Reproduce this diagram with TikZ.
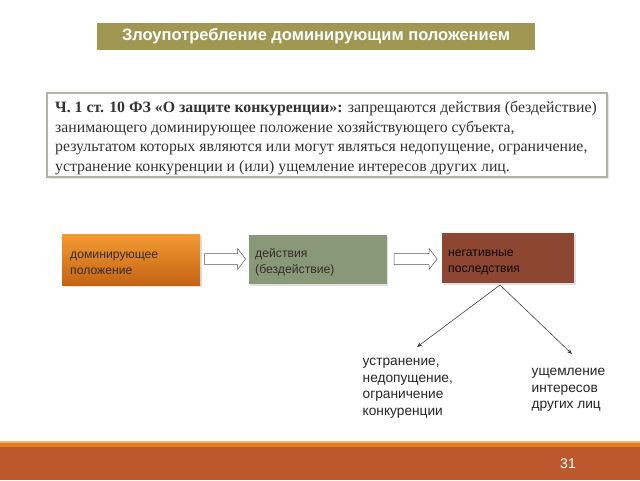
\documentclass[tikz,border=0pt]{standalone}
\usepackage{fontspec}
\setmainfont{Liberation Serif}
\setsansfont{Liberation Sans}
\usetikzlibrary{shapes.arrows,arrows.meta,shadows}
\definecolor{titleol}{RGB}{160,152,82}
\definecolor{boxgray}{RGB}{178,178,165}
\definecolor{orTop}{RGB}{243,155,52}
\definecolor{orBot}{RGB}{196,98,18}
\definecolor{grn}{RGB}{138,152,122}
\definecolor{brn}{RGB}{140,70,50}
\definecolor{rust}{RGB}{189,88,44}
\definecolor{orline}{RGB}{226,128,32}
\definecolor{txtd}{RGB}{55,45,40}
\tikzset{
  flowbox/.style={minimum width=138pt, minimum height=51pt, inner sep=0pt,
    drop shadow={shadow xshift=1.5pt, shadow yshift=-1.5pt, opacity=0.25}},
  boxtxt/.style={font=\sffamily\fontsize{12.2}{15.5}\selectfont, text=txtd, align=left, anchor=west, inner sep=0pt},
  barrow/.style={single arrow, draw=gray!70!black, fill=white, line width=0.5pt,
    minimum height=41pt, minimum width=20pt, inner sep=5.25pt, single arrow head extend=4.75pt,
    single arrow tip angle=105},
  conn/.style={draw=black!75, line width=0.6pt, -{Stealth[length=5pt,width=4pt]}},
  lowtxt/.style={font=\sffamily\fontsize{13.7}{16.7}\selectfont, text=black!85, align=left, anchor=north west, inner sep=0pt}
}
\begin{document}
\begin{tikzpicture}[x=1pt,y=-1pt]
\useasboundingbox (0,0) rectangle (640,480);
\fill[white] (0,0) rectangle (640,480);
% title
\node[fill=titleol, minimum width=438pt, minimum height=27pt, inner sep=0pt,
  text=white, font=\sffamily\bfseries\fontsize{16.5}{18}\selectfont] (title) at (316,36.5) {Злоупотребление доминирующим положением};
% law text box
\node[draw=boxgray, line width=1.2pt, fill=white, minimum width=560pt, minimum height=84pt, inner sep=0pt,
  drop shadow={shadow xshift=1.5pt, shadow yshift=-1.5pt, opacity=0.2}] (law) at (327,135) {};
\node[anchor=north west, inner sep=0pt, align=left, text=black!80, font=\fontsize{15.8}{19.7}\selectfont] (lawtxt) at (55,101)
{\textbf{Ч. 1 ст. 10 ФЗ «О защите конкуренции»:} запрещаются действия (бездействие)\\
занимающего доминирующее положение хозяйствующего субъекта,\\
результатом которых являются или могут являться недопущение, ограничение,\\
устранение конкуренции и (или) ущемление интересов других лиц.};
% flow boxes
\node[flowbox, top color=orTop, bottom color=orBot] (b1) at (131,260) {};
\node[boxtxt] (t1) at (70,263.5) {доминирующее\\положение};
\node[flowbox, minimum width=138pt, minimum height=49pt, fill=grn] (b2) at (317.5,259.5) {};
\node[boxtxt] (t2) at (255,262) {действия\\(бездействие)};
\node[flowbox, minimum width=132pt, minimum height=50pt, fill=brn] (b3) at (508,258) {};
\node[boxtxt, text=black!90!brn] (t3) at (448,262.5) {негативные\\последствия};
% block arrows
\node[barrow] (a1) at (223,259) {};
\node[barrow, minimum height=43pt] (a2) at (413.5,259) {};
% lower texts
\node[lowtxt] (l1) at (362.5,358) {устранение,\\недопущение,\\ограничение\\конкуренции};
\node[lowtxt] (l2) at (531.5,368) {ущемление\\интересов\\других лиц};
\coordinate (src) at (500,285);
\coordinate (e1) at (417,347);
\coordinate (e2) at (572,354);
\draw[conn] (src) -- (e1);
\draw[conn] (src) -- (e2);
% bottom bar
\fill[orline!60] (0,441) rectangle (640,443);
\fill[orline] (0,443) rectangle (640,447);
\fill[rust] (0,447) rectangle (640,480);
\node[text=white, font=\sffamily\fontsize{14}{16}\selectfont] (pg) at (568,464) {31};
\end{tikzpicture}
\end{document}
